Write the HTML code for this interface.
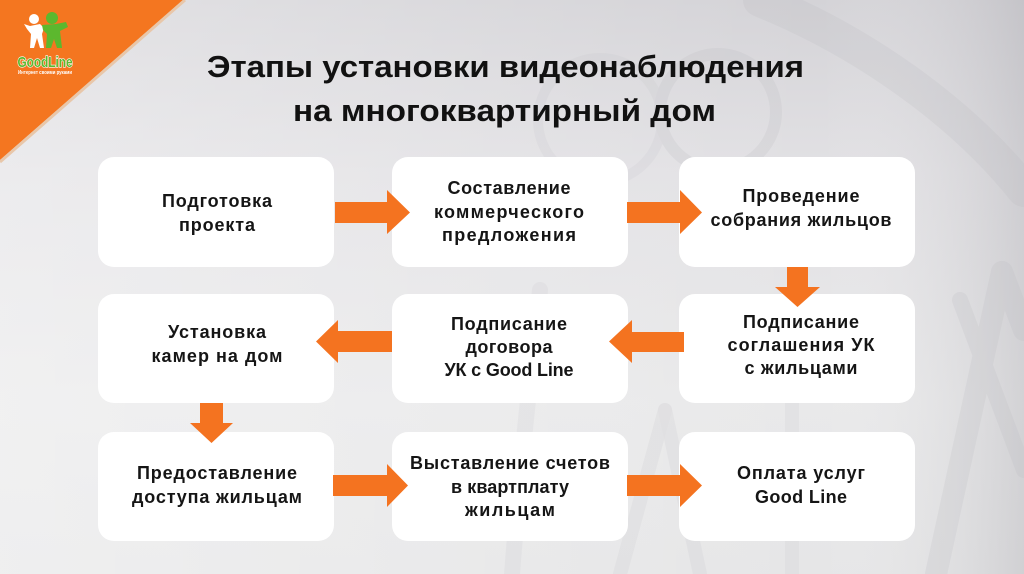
<!DOCTYPE html>
<html><head><meta charset="utf-8"><style>
html,body{margin:0;padding:0;width:1024px;height:574px;overflow:hidden;background:#e4e4e6}
svg{display:block}
</style></head><body>
<svg width="1024" height="574" viewBox="0 0 1024 574" xmlns="http://www.w3.org/2000/svg">
<defs>
<linearGradient id="bgv" x1="0" y1="0" x2="0" y2="1">
<stop offset="0" stop-color="#d4d3d7"/>
<stop offset="0.3" stop-color="#e2e1e4"/>
<stop offset="0.7" stop-color="#e9e9ea"/>
<stop offset="1" stop-color="#e6e6e7"/>
</linearGradient>
<linearGradient id="bgh" x1="0" y1="0" x2="1" y2="0">
<stop offset="0" stop-color="#ffffff" stop-opacity="0.35"/>
<stop offset="0.45" stop-color="#ffffff" stop-opacity="0.15"/>
<stop offset="0.8" stop-color="#ffffff" stop-opacity="0"/>
<stop offset="1" stop-color="#a9a8ae" stop-opacity="0.35"/>
</linearGradient>
</defs>
<rect width="1024" height="574" fill="url(#bgv)"/>
<rect width="1024" height="574" fill="url(#bgh)"/>

<!-- watermark -->
<g fill="none" stroke="#b9b8be" stroke-linecap="round" opacity="0.2">
<path d="M760 0 C 860 40, 960 110, 1024 190" stroke-width="34"/>
<circle cx="718" cy="112" r="58" stroke-width="12"/>
<circle cx="600" cy="120" r="62" stroke-width="10" opacity="0.6"/>
<path d="M1002 272 L 936 574" stroke-width="22"/>
<path d="M1002 272 L 1024 330" stroke-width="22"/>
<path d="M960 300 L 1024 470" stroke-width="16"/>
<path d="M792 300 L 792 574" stroke-width="14" opacity="0.6"/>
<path d="M540 290 C 530 380, 520 470, 512 574" stroke-width="16" opacity="0.6"/>
<path d="M665 410 L 620 574" stroke-width="14" opacity="0.7"/>
<path d="M665 410 L 700 574" stroke-width="14" opacity="0.7"/>
</g>

<!-- orange corner -->
<polygon points="0,0 183,0 0,160" fill="#f47620"/>
<line x1="185" y1="0" x2="0" y2="162" stroke="#e8c7aa" stroke-width="3"/>

<!-- logo -->
<g>
<circle cx="34" cy="19" r="5" fill="#ffffff"/>
<path d="M24 24 L30 26 L40 24 L44 28 L42 34 L44 48 L40 48 L37 38 L34 48 L30 48 L31 34 L27 29 Z" fill="#ffffff"/>
<circle cx="52" cy="18" r="6" fill="#5cb82e"/>
<path d="M42 25 L56 24 L66 22 L68 27 L60 31 L62 48 L57 48 L54 39 L51 48 L46 48 L47 34 L43 30 Z" fill="#5cb82e"/>
<text x="45" y="67" text-anchor="middle" font-family="Liberation Sans, sans-serif" font-weight="bold" font-size="15" textLength="55" lengthAdjust="spacingAndGlyphs" fill="#5cb82e" stroke="#ffffff" stroke-width="1.2" paint-order="stroke">GoodLine</text>
<text x="45" y="74" text-anchor="middle" font-family="Liberation Sans, sans-serif" font-weight="bold" font-size="5" textLength="54" lengthAdjust="spacingAndGlyphs" fill="#ffffff">Интернет своими руками</text>
</g>

<!-- title -->
<g font-family="Liberation Sans, DejaVu Sans, sans-serif" font-weight="bold" font-size="31" fill="#111111" text-anchor="middle">
<text x="505.5" y="77" textLength="597" lengthAdjust="spacingAndGlyphs">Этапы установки видеонаблюдения</text>
<text x="504.5" y="121" textLength="423" lengthAdjust="spacingAndGlyphs">на многоквартирный дом</text>
</g>

<!-- boxes -->
<g fill="#ffffff">
<rect x="98" y="157" width="236" height="110" rx="16"/>
<rect x="392" y="157" width="236" height="110" rx="16"/>
<rect x="679" y="157" width="236" height="110" rx="16"/>
<rect x="98" y="294" width="236" height="109" rx="16"/>
<rect x="392" y="294" width="236" height="109" rx="16"/>
<rect x="679" y="294" width="236" height="109" rx="16"/>
<rect x="98" y="432" width="236" height="109" rx="16"/>
<rect x="392" y="432" width="236" height="109" rx="16"/>
<rect x="679" y="432" width="236" height="109" rx="16"/>
</g>

<!-- arrows -->
<g fill="#f47320">
<polygon points="335,202 387,202 387,190 410,212.5 387,234 387,223 335,223"/>
<polygon points="627,202 680,202 680,190 702,212.5 680,234 680,223 627,223"/>
<polygon points="787,267 808,267 808,287 820,287 797.5,307 775,287 787,287"/>
<polygon points="684,332 632,332 632,320 609,341.5 632,363 632,352 684,352"/>
<polygon points="392,331 338,331 338,320 316,341.5 338,363 338,352 392,352"/>
<polygon points="200,403 223,403 223,423 233,423 211.5,443 190,423 200,423"/>
<polygon points="333,475 387,475 387,464 408,485.5 387,507 387,496 333,496"/>
<polygon points="627,475 680,475 680,464 702,485.5 680,507 680,496 627,496"/>
</g>

<!-- box text -->
<g font-family="Liberation Sans, DejaVu Sans, sans-serif" font-weight="bold" font-size="18" fill="#151515" text-anchor="middle">
<text x="217" y="207" textLength="110" lengthAdjust="spacing">Подготовка</text>
<text x="217" y="231" textLength="76" lengthAdjust="spacing">проекта</text>

<text x="509" y="194" textLength="123" lengthAdjust="spacing">Составление</text>
<text x="509" y="218" textLength="150" lengthAdjust="spacing">коммерческого</text>
<text x="509" y="241" textLength="134" lengthAdjust="spacing">предложения</text>

<text x="801" y="202" textLength="117" lengthAdjust="spacing">Проведение</text>
<text x="801" y="226" textLength="181" lengthAdjust="spacing">собрания жильцов</text>

<text x="217" y="338" textLength="98" lengthAdjust="spacing">Установка</text>
<text x="217" y="362" textLength="131" lengthAdjust="spacing">камер на дом</text>

<text x="509" y="330" textLength="116" lengthAdjust="spacing">Подписание</text>
<text x="509" y="353" textLength="87" lengthAdjust="spacing">договора</text>
<text x="509" y="376" textLength="129" lengthAdjust="spacing">УК с Good Line</text>

<text x="801" y="328" textLength="116" lengthAdjust="spacing">Подписание</text>
<text x="801" y="351" textLength="147" lengthAdjust="spacing">соглашения УК</text>
<text x="801" y="374" textLength="113" lengthAdjust="spacing">с жильцами</text>

<text x="217" y="479" textLength="160" lengthAdjust="spacing">Предоставление</text>
<text x="217" y="503" textLength="170" lengthAdjust="spacing">доступа жильцам</text>

<text x="510" y="469" textLength="200" lengthAdjust="spacing">Выставление счетов</text>
<text x="510" y="493" textLength="118" lengthAdjust="spacing">в квартплату</text>
<text x="510" y="516" textLength="90" lengthAdjust="spacing">жильцам</text>

<text x="801" y="479" textLength="128" lengthAdjust="spacing">Оплата услуг</text>
<text x="801" y="503" textLength="92" lengthAdjust="spacing">Good Line</text>
</g>
</svg>
</body></html>
